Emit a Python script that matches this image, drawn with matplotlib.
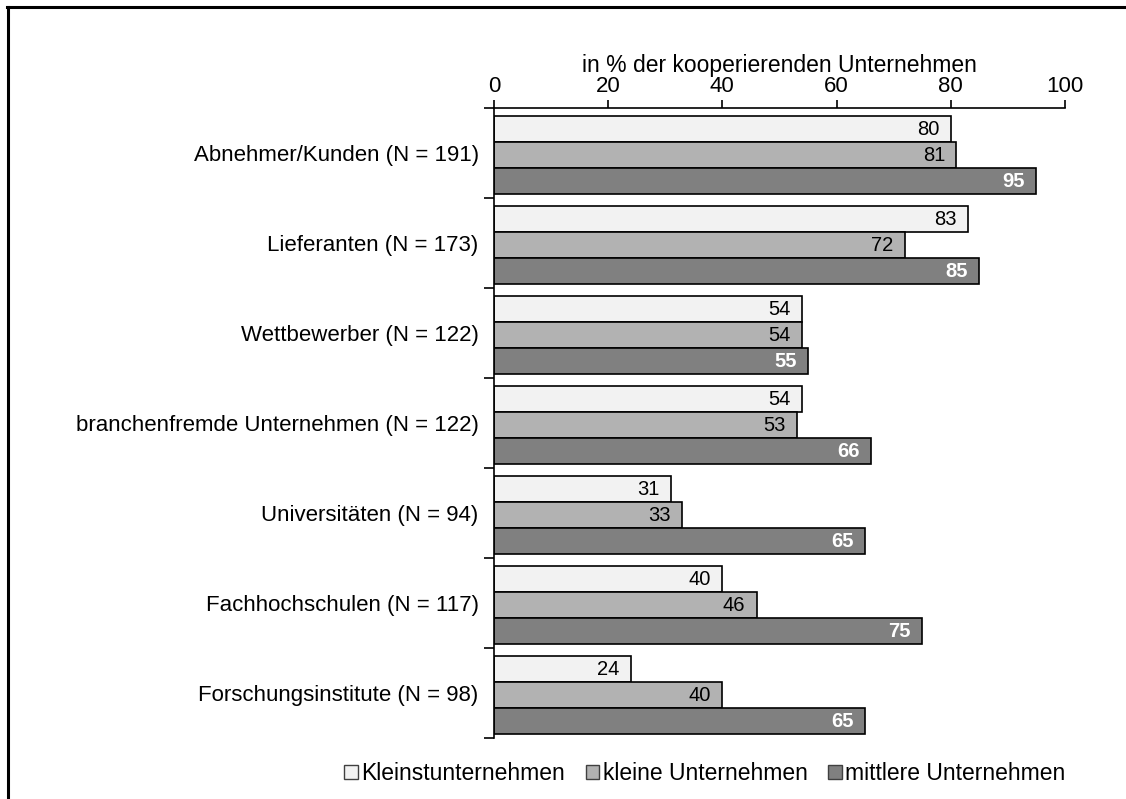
import numpy as np
import matplotlib.pyplot as plt
from matplotlib.patches import Patch
from matplotlib.lines import Line2D

categories = [
    "Abnehmer/Kunden (N = 191)",
    "Lieferanten (N = 173)",
    "Wettbewerber (N = 122)",
    "branchenfremde Unternehmen (N = 122)",
    "Universitäten (N = 94)",
    "Fachhochschulen (N = 117)",
    "Forschungsinstitute (N = 98)",
]
kleinst = [80, 83, 54, 54, 31, 40, 24]
kleine = [81, 72, 54, 53, 33, 46, 40]
mittlere = [95, 85, 55, 66, 65, 75, 65]
series_names = ["Kleinstunternehmen", "kleine Unternehmen", "mittlere Unternehmen"]
colors = ["#F2F2F2", "#B2B2B2", "#808080"]

plt.rcParams["font.family"] = ["Liberation Sans", "DejaVu Sans"]

fig = plt.figure(figsize=(11.26, 7.99), dpi=100)
ax = fig.add_axes([0.4387, 0.0763, 0.5071, 0.7885])

h = 0.289
centers = np.arange(len(categories)) + 0.52
for k, (vals, col) in enumerate(zip([kleinst, kleine, mittlere], colors)):
    y = centers + (k - 1) * h
    ax.barh(y, vals, height=h, color=col, edgecolor="black", linewidth=1.2)
    for yy, v in zip(y, vals):
        if k == 2:
            ax.text(v - 2.0, yy + 0.01, str(v), ha="right", va="center",
                    fontsize=14.5, color="white", fontweight="bold")
        else:
            ax.text(v - 2.0, yy + 0.01, str(v), ha="right", va="center",
                    fontsize=14.5, color="black")

ax.set_xlim(0, 100)
ax.set_ylim(len(categories), 0)
ax.xaxis.tick_top()
ax.xaxis.set_label_position("top")
ax.set_xticks([0, 20, 40, 60, 80, 100])
ax.tick_params(axis="x", direction="out", length=6, width=1.2, labelsize=16, pad=2)
ax.set_xlabel("in % der kooperierenden Unternehmen", fontsize=16.5, labelpad=3)

ax.set_yticks(np.arange(len(categories) + 1))
ax.set_yticklabels([])
ax.tick_params(axis="y", which="major", direction="out", length=7, width=1.2)
ax.set_yticks(np.arange(len(categories)) + 0.5, minor=True)
ax.set_yticklabels(categories, minor=True, fontsize=16)
ax.tick_params(axis="y", which="minor", length=0, pad=11)

for s in ["right", "bottom"]:
    ax.spines[s].set_visible(False)
for s in ["top", "left"]:
    ax.spines[s].set_linewidth(1.2)

handles = [Patch(facecolor=c, edgecolor="#404040", linewidth=1) for c in colors]
fig.legend(handles, series_names, loc="center", bbox_to_anchor=(0.626, 0.032),
           ncol=3, frameon=False, fontsize=16.5, handlelength=0.6, handleheight=0.6,
           handletextpad=0.15, columnspacing=0.9)

# outer frame (top and left only)
fig.add_artist(Line2D([0.0065, 1.0], [0.9912, 0.9912], color="black", linewidth=2.2,
                      transform=fig.transFigure))
fig.add_artist(Line2D([0.0075, 0.0075], [0.0, 0.9912], color="black", linewidth=2.2,
                      transform=fig.transFigure))

fig.savefig("out.png", dpi=100)
